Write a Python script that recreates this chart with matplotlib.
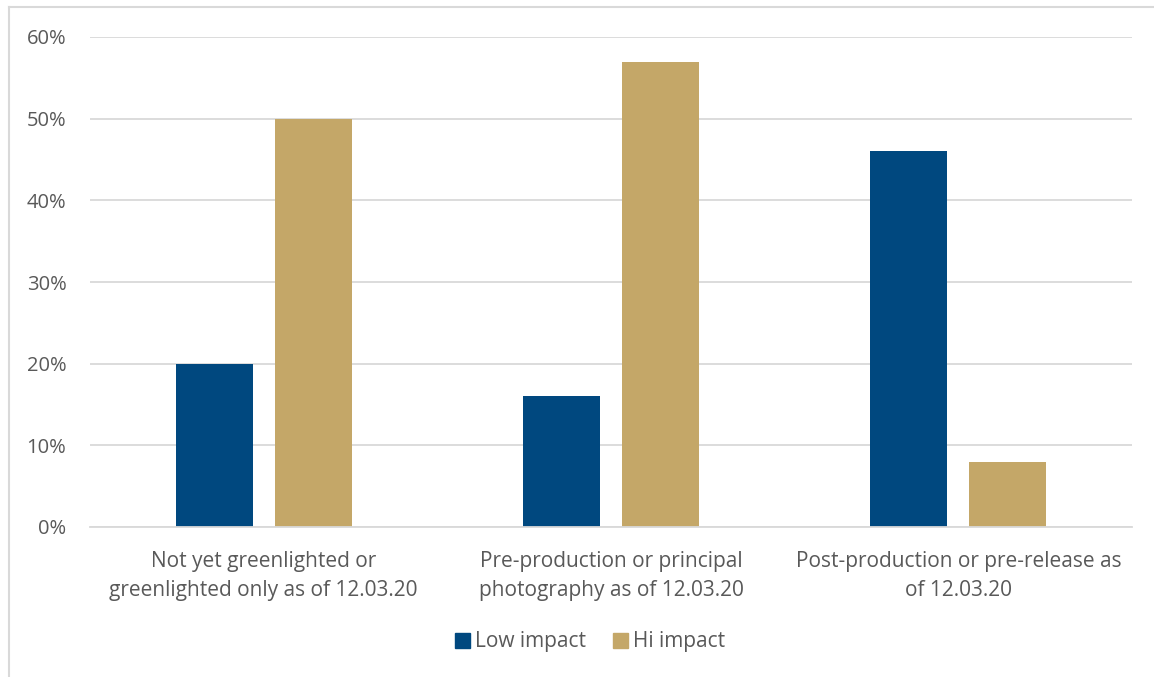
import matplotlib.pyplot as plt
import numpy as np
from matplotlib.lines import Line2D
from matplotlib.patches import Patch

categories = [
	'Not yet greenlighted or\ngreenlighted only as of 12.03.20',
	'Pre-production or principal\nphotography as of 12.03.20',
	'Post-production or pre-release as\nof 12.03.20',
]
low_impact = [0.20, 0.16, 0.46]
hi_impact = [0.50, 0.57, 0.08]
yticks = [0.0, 0.1, 0.2, 0.3, 0.4, 0.5, 0.6]

BLUE = '#00487f'
TAN = '#c4a768'
TEXT = '#595959'
GRID = '#d9d9d9'

plt.rcParams['font.family'] = ['Open Sans', 'DejaVu Sans']

W, H = 1154, 677
fig = plt.figure( figsize = ( W / 100, H / 100 ), dpi = 100 )
ax = fig.add_axes( [90 / W, 1 - 527 / H, ( 1132 - 90 ) / W, ( 527 - 37 ) / H] )

x = np.arange( len( categories ) )
width = 0.222
offset = 0.1427
ax.bar( x - offset, low_impact, width, color = BLUE, label = 'Low impact', zorder = 3 )
ax.bar( x + offset, hi_impact, width, color = TAN, label = 'Hi impact', zorder = 3 )

ax.set_xlim( -0.5, len( categories ) - 0.5 )
ax.set_ylim( 0, 0.6 )
ax.set_yticks( yticks )
ax.set_yticklabels( [f'{int( round( v * 100 ) )}%' for v in yticks] )
ax.set_xticks( x )
ax.set_xticklabels( categories, linespacing = 1.5 )

ax.grid( axis = 'y', color = GRID, linewidth = 1.3, zorder = 0 )
for side in ['top', 'right', 'left']:
	ax.spines[side].set_visible( False )
ax.spines['bottom'].set_color( GRID )
ax.spines['bottom'].set_linewidth( 1.3 )
ax.spines['bottom'].set_zorder( 4 )
ax.tick_params( axis = 'both', length = 0, colors = TEXT )
ax.tick_params( axis = 'y', pad = 17, labelsize = 14.5 )
ax.tick_params( axis = 'x', pad = 17, labelsize = 15 )

handles = [Patch( color = BLUE ), Patch( color = TAN )]
fig.legend(
	handles, ['Low impact', 'Hi impact'], loc = 'center', bbox_to_anchor = ( 590 / W, 1 - 642 / H ),
	ncol = 2, frameon = False, fontsize = 15, labelcolor = TEXT, handlelength = 0.7, handleheight = 0.7,
	handletextpad = 0.25, columnspacing = 1.3
)

# outer chart frame (only left and top edges are visible)
fig.add_artist( Line2D( [9 / W, 9 / W], [0, 1 - 7 / H], color = GRID, linewidth = 1.5 ) )
fig.add_artist( Line2D( [9 / W, 1], [1 - 7 / H, 1 - 7 / H], color = GRID, linewidth = 1.5 ) )

plt.savefig( 'out.png', dpi = 100 )
